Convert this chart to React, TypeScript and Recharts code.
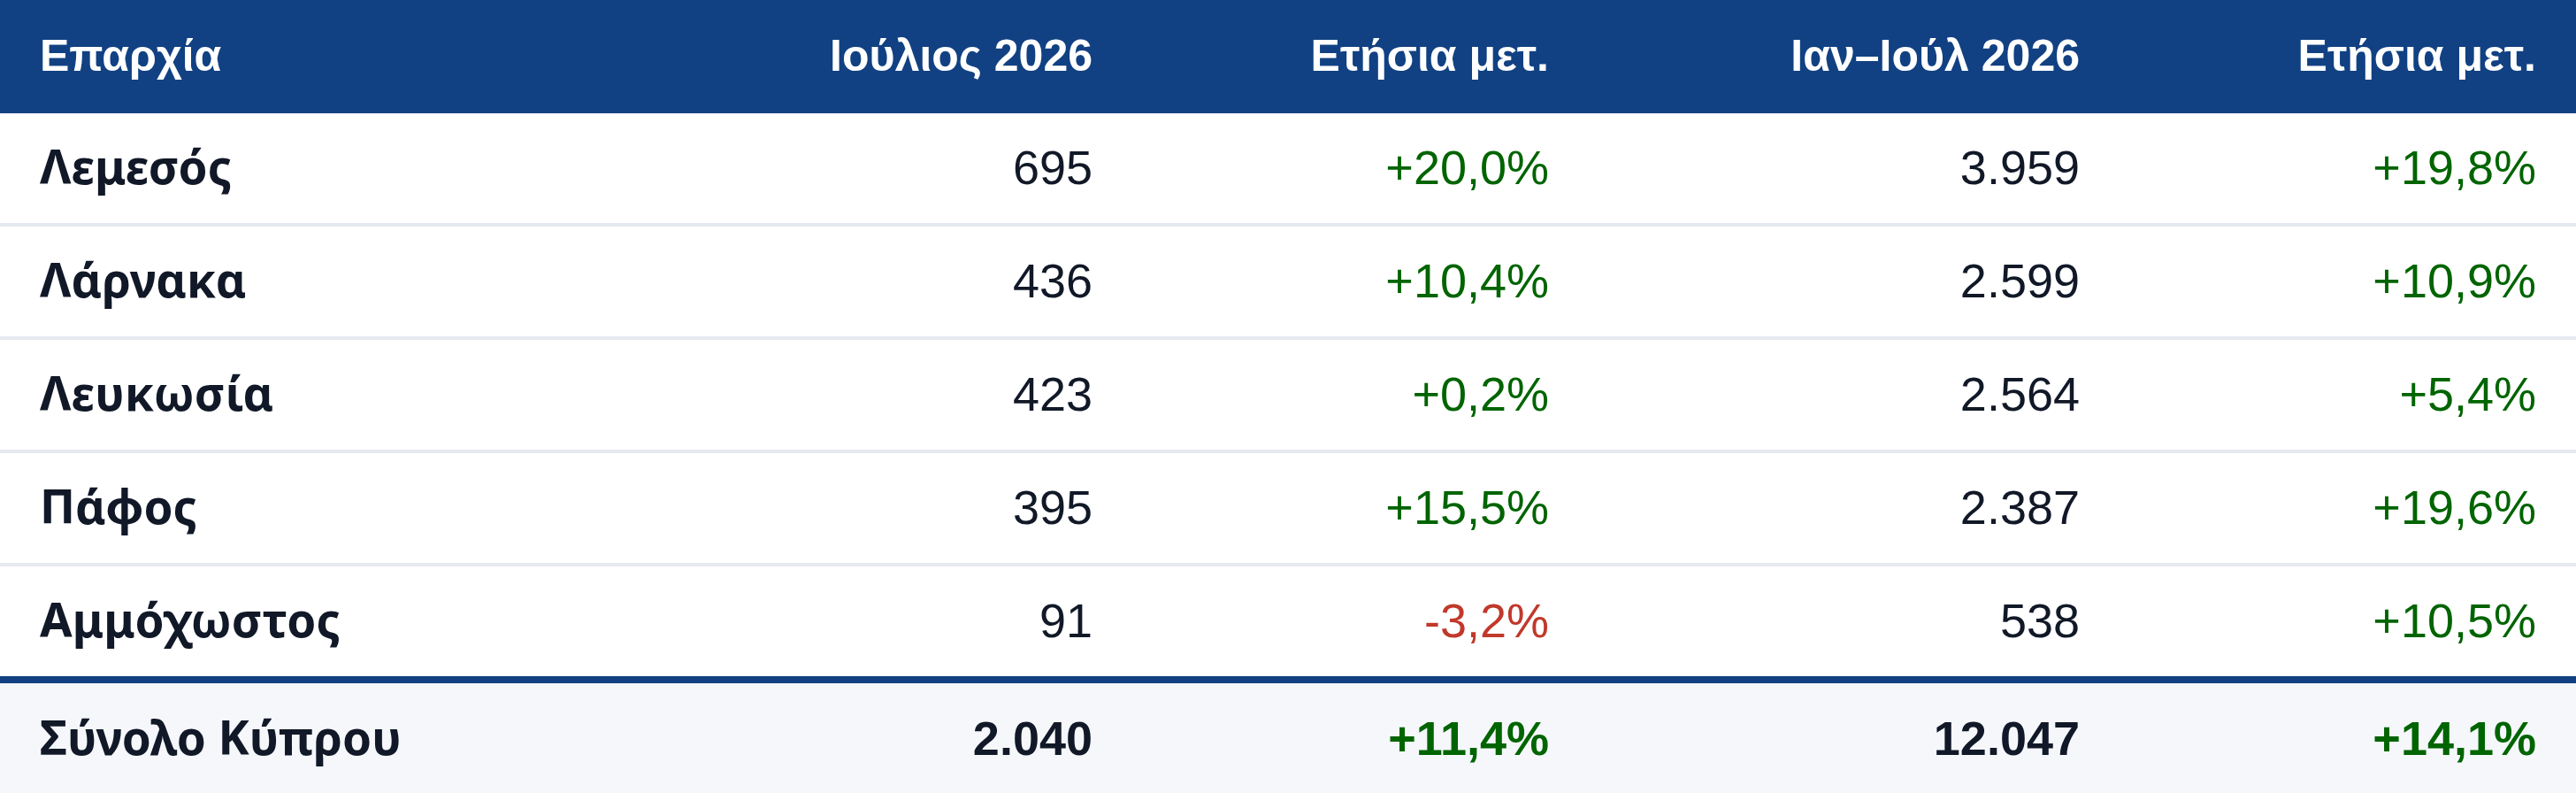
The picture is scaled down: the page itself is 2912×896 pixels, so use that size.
import { BarChart, Bar, XAxis, YAxis, Customized } from 'recharts';

const districts = ['Λεμεσός', 'Λάρνακα', 'Λευκωσία', 'Πάφος', 'Αμμόχωστος', 'Σύνολο Κύπρου'];
const july2026 = [695, 436, 423, 395, 91, 2040];
const julyYoY = [20.0, 10.4, 0.2, 15.5, -3.2, 11.4];
const ytd2026 = [3959, 2599, 2564, 2387, 538, 12047];
const ytdYoY = [19.8, 10.9, 5.4, 19.6, 10.5, 14.1];
const headers = ['Επαρχία', 'Ιούλιος 2026', 'Ετήσια μετ.', 'Ιαν–Ιούλ 2026', 'Ετήσια μετ.'];

const W = 2912;
const H = 896;
const HEAD_H = 128;
const PAD = 45;
// right edges of the numeric columns
const COL_RIGHT = [1235, 1751, 2351, 2867];

const BLUE = '#114182';
const INK = '#111827';
const GREEN = '#006400';
const RED = '#c0392b';
const RULE = '#e5e9f0';
const TOTAL_BG = '#f5f7fb';

const NUM_FONT = '"Liberation Sans", Arial, sans-serif';
const NAME_FONT = '"Noto Sans", "Open Sans", sans-serif';

const data = districts.map((name, i) => ({
  name,
  july: july2026[i],
  julyYoY: julyYoY[i],
  ytd: ytd2026[i],
  ytdYoY: ytdYoY[i],
  total: i === districts.length - 1,
}));

const fmtInt = (n: number) => String(n).replace(/\B(?=(\d{3})+(?!\d))/g, '.');
const fmtPct = (v: number) => (v < 0 ? '-' : '+') + Math.abs(v).toFixed(1).replace('.', ',') + '%';

function Header() {
  return (
    <g>
      <rect x={0} y={0} width={W} height={HEAD_H} fill={BLUE} />
      <text x={PAD} y={80} fill="#fff" fontFamily={NUM_FONT} fontWeight={700} fontSize={50}>
        {headers[0]}
      </text>
      {COL_RIGHT.map((x, i) => (
        <text
          key={i}
          x={x}
          y={80}
          textAnchor="end"
          fill="#fff"
          fontFamily={NUM_FONT}
          fontWeight={700}
          fontSize={50}
        >
          {headers[i + 1]}
        </text>
      ))}
    </g>
  );
}

function RowShape(props: any) {
  const { y, height, payload, index } = props;
  const isTotal = payload.total;
  const base = isTotal ? y + 85 : y + 80;
  const weight = isTotal ? 700 : 400;
  const pctColor = (v: number) => (v < 0 ? RED : GREEN);
  const cells = [
    { text: fmtInt(payload.july), color: INK },
    { text: fmtPct(payload.julyYoY), color: pctColor(payload.julyYoY) },
    { text: fmtInt(payload.ytd), color: INK },
    { text: fmtPct(payload.ytdYoY), color: pctColor(payload.ytdYoY) },
  ];
  return (
    <g>
      {isTotal ? (
        <>
          <rect x={0} y={y} width={W} height={height} fill={TOTAL_BG} />
          <rect x={0} y={y - 4} width={W} height={8} fill={BLUE} />
        </>
      ) : (
        <>
          <rect x={0} y={y} width={W} height={height} fill="#fff" />
          {index < districts.length - 2 && (
            <rect x={0} y={y + height - 4} width={W} height={4} fill={RULE} />
          )}
        </>
      )}
      <text x={PAD} y={base} fill={INK} fontFamily={NAME_FONT} fontWeight={700} fontSize={53}>
        {payload.name}
      </text>
      {cells.map((c, i) => (
        <text
          key={i}
          x={COL_RIGHT[i]}
          y={base}
          textAnchor="end"
          fill={c.color}
          fontFamily={NUM_FONT}
          fontWeight={weight}
          fontSize={54}
        >
          {c.text}
        </text>
      ))}
    </g>
  );
}

export default function App() {
  return (
    <div style={{ position: 'absolute', left: 0, top: 0, width: W, height: H, background: '#fff' }}>
      <BarChart
        width={W}
        height={H}
        data={data}
        layout="vertical"
        margin={{ top: HEAD_H, right: 0, bottom: 0, left: 0 }}
        barCategoryGap={0}
      >
        <XAxis type="number" hide domain={[0, 'dataMax']} />
        <YAxis type="category" dataKey="name" hide />
        <Bar dataKey="july" shape={RowShape} isAnimationActive={false} />
        <Customized component={<Header />} />
      </BarChart>
    </div>
  );
}
